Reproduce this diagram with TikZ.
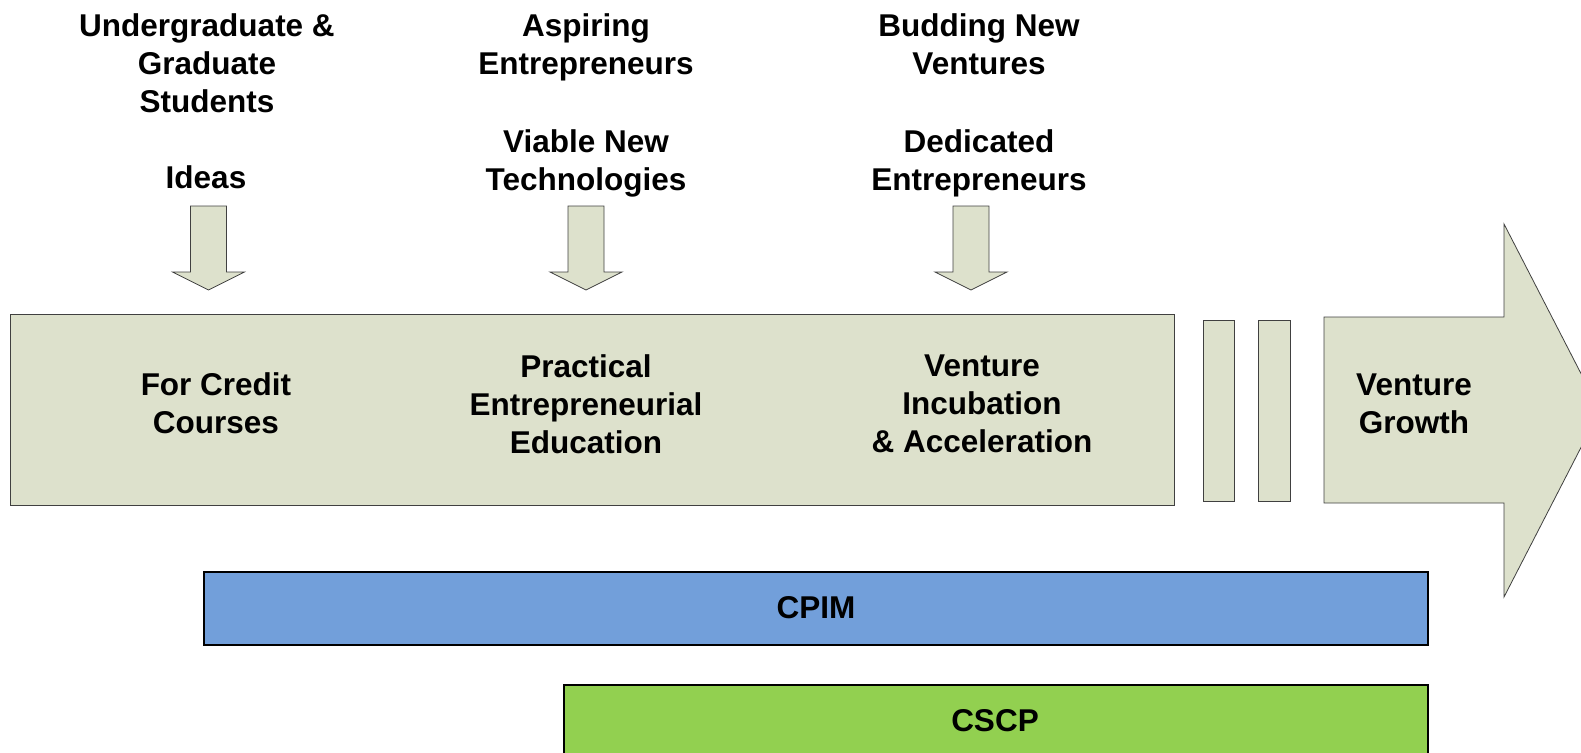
\documentclass[tikz,border=0pt]{standalone}
\usepackage{fontspec}
\setmainfont{Liberation Sans}
\definecolor{beige}{RGB}{221,225,204}
\definecolor{cpimblue}{RGB}{114,159,218}
\definecolor{cscpgreen}{RGB}{146,208,80}
\begin{document}
\begin{tikzpicture}[x=1pt,y=-1pt,
  lbl/.style={font=\bfseries\fontsize{31.5}{38}\selectfont, align=center, inner sep=0pt},
  beigeshape/.style={fill=beige, draw=black!75, line width=0.8pt},
  bar/.style={draw=black, line width=1.4pt}]
\useasboundingbox (0,0) rectangle (1581,752);
% main stage box
\draw[beigeshape] (10,314) rectangle (1174,505);
\draw[beigeshape] (1203,320) rectangle (1234,501);
\draw[beigeshape] (1258,320) rectangle (1290,501);
% big arrow
\draw[beigeshape] (1324,317) -- (1504,317) -- (1504,224) -- (1600,410.5) -- (1504,597) -- (1504,503) -- (1324,503) -- cycle;
% down arrows
\foreach \cx in {208.5,586,971} {
  \draw[beigeshape] ({\cx-18},206) -- ({\cx+18},206) -- ({\cx+18},272) -- ({\cx+36},272) -- (\cx,290) -- ({\cx-36},272) -- ({\cx-18},272) -- cycle;
}
% bars
\draw[bar, fill=cpimblue] (204,572) rectangle (1428,645);
\draw[bar, fill=cscpgreen] (564,685) rectangle (1428,760);
% labels
\node[lbl] (t1) at (207,63) {Undergraduate \&\\Graduate\\Students};
\node[lbl] (t2) at (206,177) {Ideas};
\node[lbl] (t3) at (586,47) {Aspiring\\Entrepreneurs};
\node[lbl] (t4) at (586,163) {Viable New\\Technologies};
\node[lbl] (t5) at (979,44) {Budding New\\Ventures};
\node[lbl] (t6) at (979,163) {Dedicated\\Entrepreneurs};
\node[lbl] (s1) at (216,403) {For Credit\\Courses};
\node[lbl] (s2) at (586,404) {Practical\\Entrepreneurial\\Education};
\node[lbl] (s3) at (982,404) {Venture\\Incubation\\\& Acceleration};
\node[lbl] (s4) at (1414,404) {Venture\\Growth};
\node[lbl] (cpim) at (816,608) {CPIM};
\node[lbl] (cscp) at (995,721) {CSCP};
\end{tikzpicture}
\end{document}
